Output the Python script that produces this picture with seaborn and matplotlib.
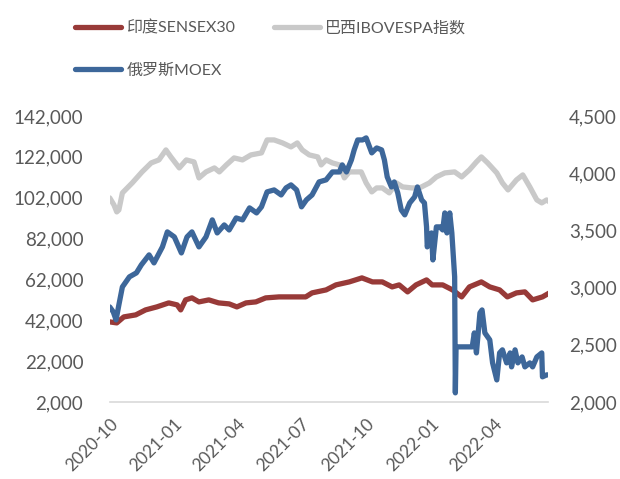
import numpy as np
import pandas as pd
import matplotlib
matplotlib.use("Agg")
import matplotlib.pyplot as plt
import matplotlib.dates as mdates
from matplotlib.ticker import FuncFormatter, FixedLocator
import seaborn as sns

# %% data

red_name = "印度SENSEX30"
grey_name = "巴西IBOVESPA指数"
blue_name = "俄罗斯MOEX"

left_ticks = [2000, 22000, 42000, 62000, 82000, 102000, 122000, 142000]
right_ticks = [2000, 2500, 3000, 3500, 4000, 4500]

red_dates = ["2020-10-01", "2020-10-11", "2020-10-21", "2020-11-07", "2020-11-21", "2020-12-07",
             "2020-12-24", "2021-01-05", "2021-01-10", "2021-01-17", "2021-01-26", "2021-02-05",
             "2021-02-19", "2021-03-05", "2021-03-20", "2021-03-31", "2021-04-13", "2021-04-27",
             "2021-05-11", "2021-05-30", "2021-06-17", "2021-07-07", "2021-07-16", "2021-08-05",
             "2021-08-19", "2021-09-07", "2021-09-25", "2021-10-10", "2021-10-24", "2021-11-07",
             "2021-11-17", "2021-11-29", "2021-12-11", "2021-12-26", "2022-01-03", "2022-01-18",
             "2022-02-01", "2022-02-14", "2022-02-25", "2022-03-14", "2022-03-26", "2022-04-09",
             "2022-04-20", "2022-05-03", "2022-05-15", "2022-05-26", "2022-06-09", "2022-06-19"]
red_vals = [41160, 40670, 43600, 44590, 47030, 48500, 50460, 49480, 47030, 51930, 52910, 50950,
            51930, 50460, 49970, 48500, 50460, 50950, 52910, 53400, 53400, 53400, 55360, 56820,
            59270, 60740, 62700, 60740, 60740, 58290, 59270, 55850, 59270, 61720, 59270, 59270,
            56820, 53400, 58290, 60740, 58290, 56820, 53400, 55360, 55850, 51930, 53400, 55360]

grey_dates = ["2020-10-01", "2020-10-07", "2020-10-11", "2020-10-14", "2020-10-19", "2020-11-02",
              "2020-11-16", "2020-11-29", "2020-12-10", "2020-12-20", "2020-12-27", "2021-01-08",
              "2021-01-18", "2021-01-29", "2021-02-05", "2021-02-15", "2021-02-27", "2021-03-06",
              "2021-03-16", "2021-03-27", "2021-04-08", "2021-04-20", "2021-05-05", "2021-05-13",
              "2021-05-23", "2021-06-04", "2021-06-16", "2021-06-25", "2021-07-02", "2021-07-12",
              "2021-07-24", "2021-07-29", "2021-08-05", "2021-08-14", "2021-08-24", "2021-08-31",
              "2021-09-07", "2021-09-12", "2021-09-24", "2021-10-01", "2021-10-09", "2021-10-16",
              "2021-10-24", "2021-11-03", "2021-11-13", "2021-11-22", "2021-12-05", "2021-12-16",
              "2021-12-30", "2022-01-09", "2022-01-21", "2022-02-04", "2022-02-14", "2022-02-25",
              "2022-03-07", "2022-03-14", "2022-03-23", "2022-04-05", "2022-04-13", "2022-04-21",
              "2022-05-03", "2022-05-12", "2022-05-22", "2022-06-01", "2022-06-08", "2022-06-15",
              "2022-06-19"]
grey_vals = [101860, 98430, 95010, 95980, 104310, 109200, 114590, 118990, 120460, 125350, 121930,
             116540, 120460, 119480, 111650, 114590, 116540, 114590, 118010, 121440, 120460, 122910,
             123890, 130250, 130250, 128780, 126820, 128780, 125350, 122910, 121930, 118010, 120460,
             118990, 118010, 111650, 114590, 114590, 114590, 109200, 104800, 106750, 106750, 104310,
             109200, 107240, 106750, 106750, 109200, 112140, 114100, 114590, 112140, 115560, 119480,
             121930, 118990, 114100, 109200, 105770, 110670, 113120, 107240, 100880, 99410, 100880,
             99900]

blue_dates = ["2020-10-01", "2020-10-06", "2020-10-10", "2020-10-14", "2020-10-19", "2020-10-29",
              "2020-11-08", "2020-11-15", "2020-11-26", "2020-12-03", "2020-12-15", "2020-12-22",
              "2021-01-01", "2021-01-11", "2021-01-19", "2021-01-26", "2021-02-05", "2021-02-15",
              "2021-02-24", "2021-03-03", "2021-03-13", "2021-03-20", "2021-03-30", "2021-04-08",
              "2021-04-18", "2021-04-28", "2021-05-05", "2021-05-13", "2021-05-23", "2021-06-02",
              "2021-06-09", "2021-06-16", "2021-06-24", "2021-07-01", "2021-07-08", "2021-07-16",
              "2021-07-26", "2021-08-05", "2021-08-14", "2021-08-24", "2021-08-28", "2021-09-03",
              "2021-09-10", "2021-09-14", "2021-09-19", "2021-09-26", "2021-10-01", "2021-10-09",
              "2021-10-16", "2021-10-23", "2021-10-27", "2021-10-31", "2021-11-06", "2021-11-10",
              "2021-11-15", "2021-11-20", "2021-11-25", "2021-12-02", "2021-12-09", "2021-12-13",
              "2021-12-19", "2021-12-23", "2021-12-26", "2021-12-27", "2022-01-02", "2022-01-04",
              "2022-01-09", "2022-01-14", "2022-01-18", "2022-01-21", "2022-01-24", "2022-01-28",
              "2022-01-31", "2022-02-04", "2022-02-05", "2022-02-06", "2022-03-01", "2022-03-04",
              "2022-03-07", "2022-03-12", "2022-03-15", "2022-03-19", "2022-03-26", "2022-03-30",
              "2022-04-05", "2022-04-09", "2022-04-13", "2022-04-19", "2022-04-24", "2022-04-26",
              "2022-05-01", "2022-05-05", "2022-05-11", "2022-05-15", "2022-05-22", "2022-05-26",
              "2022-06-01", "2022-06-08", "2022-06-09", "2022-06-15", "2022-06-19"]
blue_vals = [2830, 2787, 2717, 2848, 3005, 3093, 3128, 3198, 3285, 3215, 3355, 3486, 3442, 3302,
             3442, 3486, 3355, 3442, 3591, 3477, 3547, 3503, 3608, 3591, 3696, 3652, 3705, 3836,
             3853, 3809, 3871, 3897, 3853, 3705, 3766, 3809, 3923, 3941, 4010, 4010, 4072, 4010,
             4115, 4203, 4290, 4290, 4308, 4177, 4220, 4203, 4115, 3967, 3879, 3923, 3827, 3678,
             3635, 3739, 3792, 3879, 3766, 3739, 3530, 3355, 3477, 3241, 3530, 3530, 3503, 3652,
             3477, 3652, 3477, 3093, 2079, 2481, 2481, 2603, 2428, 2778, 2804, 2603, 2542, 2341,
             2192, 2428, 2455, 2341, 2428, 2306, 2455, 2341, 2393, 2306, 2341, 2306, 2393, 2428,
             2219, 2236, 2236]

red_df = pd.DataFrame({"date": pd.to_datetime(red_dates), "value": red_vals})
grey_df = pd.DataFrame({"date": pd.to_datetime(grey_dates), "value": grey_vals})
blue_df = pd.DataFrame({"date": pd.to_datetime(blue_dates), "value": blue_vals})

# %% style

sns.set_style("white")
plt.rcParams["font.family"] = ["Lato", "Noto Sans CJK SC", "DejaVu Sans"]
txt_col = "#595959"
red = "#983A38"
grey = "#C9C9C9"
blue = "#3D679A"
lw = 3.8

fig = plt.figure(figsize=(6.2, 4.79), dpi=100)
ax = fig.add_axes([0.177, 0.161, 0.707, 0.597])
ax2 = ax.twinx()

line_kw = dict(linewidth=lw, solid_capstyle="round", solid_joinstyle="round")
sns.lineplot(data=red_df, x="date", y="value", ax=ax, color=red, label=red_name, **line_kw)
sns.lineplot(data=grey_df, x="date", y="value", ax=ax, color=grey, label=grey_name, **line_kw)
sns.lineplot(data=blue_df, x="date", y="value", ax=ax2, color=blue, label=blue_name, **line_kw)

h1, l1 = ax.get_legend_handles_labels()
h2, l2 = ax2.get_legend_handles_labels()
ax.get_legend().remove()
ax2.get_legend().remove()

# axes limits / ticks
ax.set_ylim(left_ticks[0], left_ticks[-1])
ax.yaxis.set_major_locator(FixedLocator(left_ticks))
ax2.set_ylim(right_ticks[0], right_ticks[-1])
ax2.yaxis.set_major_locator(FixedLocator(right_ticks))
fmt = FuncFormatter(lambda v, p: f"{v:,.0f}")
ax.yaxis.set_major_formatter(fmt)
ax2.yaxis.set_major_formatter(fmt)

ax.set_xlim(pd.Timestamp("2020-10-01"), pd.Timestamp("2022-06-17"))
ax.xaxis.set_major_locator(mdates.MonthLocator(bymonth=[1, 4, 7, 10]))
ax.xaxis.set_major_formatter(mdates.DateFormatter("%Y-%m"))

for a in (ax, ax2):
    a.set_xlabel("")
    a.set_ylabel("")
    for s in a.spines.values():
        s.set_visible(False)
    a.grid(False)
ax.spines["bottom"].set_visible(True)
ax.spines["bottom"].set_color("#D9D9D9")
ax.spines["bottom"].set_linewidth(1.2)

ax.tick_params(axis="x", colors="#D9D9D9", length=4, width=1.2, labelcolor=txt_col,
               labelsize=12.5, pad=6)
ax.tick_params(axis="y", length=0, labelcolor=txt_col, labelsize=13.5, pad=19)
ax2.tick_params(axis="y", length=0, labelcolor=txt_col, labelsize=13.5, pad=15)
for t in ax.get_xticklabels():
    t.set_rotation(45)
    t.set_ha("right")
    t.set_rotation_mode("anchor")

# legend: row 1 = SENSEX, IBOVESPA ; row 2 = MOEX
handles = [h1[0], h2[0], h1[1]]
labels = [l1[0], l2[0], l1[1]]
fig.legend(handles, labels, loc="upper left", bbox_to_anchor=(0.098, 0.988), ncol=2,
           frameon=False, fontsize=11.5, handlelength=2.9, handletextpad=0.3,
           columnspacing=2.4, labelspacing=1.75, labelcolor=txt_col)

fig.savefig("out.png", dpi=100)
